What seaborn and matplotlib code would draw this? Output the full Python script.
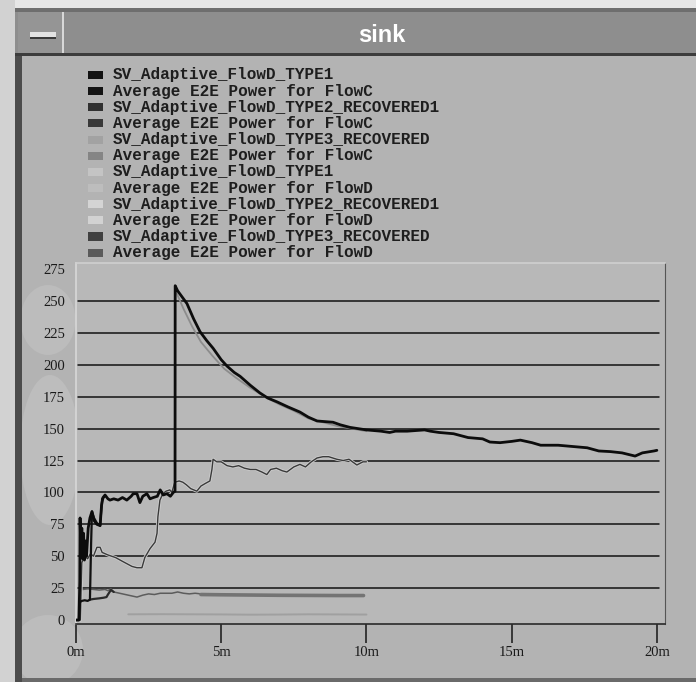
import matplotlib
matplotlib.use("Agg")
import matplotlib.pyplot as plt
import seaborn as sns
import pandas as pd
from matplotlib.patches import Rectangle, Ellipse

# ---------------- data ----------------
legend_labels = [
    "SV_Adaptive_FlowD_TYPE1",
    "Average E2E Power for FlowC",
    "SV_Adaptive_FlowD_TYPE2_RECOVERED1",
    "Average E2E Power for FlowC",
    "SV_Adaptive_FlowD_TYPE3_RECOVERED",
    "Average E2E Power for FlowC",
    "SV_Adaptive_FlowD_TYPE1",
    "Average E2E Power for FlowD",
    "SV_Adaptive_FlowD_TYPE2_RECOVERED1",
    "Average E2E Power for FlowD",
    "SV_Adaptive_FlowD_TYPE3_RECOVERED",
    "Average E2E Power for FlowD",
]
legend_colors = ["#121212", "#141414", "#303030", "#383838", "#a2a2a2", "#858585",
                 "#c4c4c4", "#bdbdbd", "#d4d4d4", "#d2d2d2", "#404040", "#5a5a5a"]

y_ticks = [0, 25, 50, 75, 100, 125, 150, 175, 200, 225, 250, 275]
x_ticks = [0, 5, 10, 15, 20]
x_tick_labels = ["0m", "5m", "10m", "15m", "20m"]

# main black series (Average E2E Power for FlowC)
flowc_t = [0.00, 0.10, 0.13, 0.14, 0.17, 0.20, 0.23, 0.26, 0.29, 0.32, 0.36, 0.42,
           0.48, 0.55, 0.62, 0.72, 0.83, 0.88, 0.93, 1.00, 1.10, 1.17, 1.30, 1.45,
           1.60, 1.75, 1.90, 1.97, 2.10, 2.20, 2.30, 2.44, 2.55, 2.66, 2.80, 2.90,
           3.00, 3.13, 3.25, 3.35, 3.41, 3.415, 3.50, 3.82, 4.05, 4.27, 4.50, 4.72,
           5.00, 5.20, 5.45, 5.65, 6.00, 6.33, 6.60, 6.92, 7.30, 7.71, 8.00, 8.30,
           8.85, 9.10, 9.43, 10.0, 10.5, 10.8, 11.0, 11.4, 12.0, 12.2, 12.5, 13.0,
           13.5, 14.0, 14.25, 14.6, 15.0, 15.3, 15.7, 16.0, 16.6, 17.1, 17.6, 18.0,
           18.4, 18.8, 19.25, 19.5, 19.9, 20.0]
flowc_v = [0, 0, 30, 80, 50, 72, 48, 68, 47, 62, 50, 72,
           80, 85, 78, 75, 74, 90, 96, 98, 95, 94, 95, 94,
           96, 94, 97, 99, 99, 92, 97, 99, 95, 96, 97, 102,
           98, 99, 97, 100, 101, 262, 258, 248, 236, 226, 219, 213,
           204, 199, 194, 191, 184, 178, 174, 171, 167, 163, 159, 156,
           155, 153, 151, 149, 148, 147, 148, 148, 149, 148, 147, 146,
           143, 142, 139.5, 139, 140, 141, 139, 137, 137, 136, 135, 132.5,
           132, 131, 128.5, 131, 132.5, 133]

# grey companion of the decay
flowc_grey_t = [3.45, 3.70, 4.00, 4.30, 4.70, 5.10, 5.50, 6.00, 6.50, 7.00, 7.50, 8.00, 9.00, 10.0]
flowc_grey_v = [257, 244, 230, 218, 207, 197, 190, 182, 175, 169, 164, 158, 152, 148]

# thin dark series (Average E2E Power for FlowD)
flowd_t = [0.00, 0.15, 0.20, 0.30, 0.40, 0.50, 0.60, 0.72, 0.83, 0.90, 1.10, 1.36,
           1.60, 1.93, 2.10, 2.27, 2.37, 2.55, 2.72, 2.79, 2.82, 2.89, 2.99, 3.10,
           3.23, 3.30, 3.40, 3.55, 3.68, 3.80, 3.95, 4.16, 4.30, 4.45,
           4.61, 4.68, 4.72, 4.85, 5.00, 5.20, 5.40, 5.60, 5.80, 6.00, 6.20, 6.40,
           6.57, 6.70, 6.90, 7.10, 7.26, 7.50, 7.71, 7.90, 8.10, 8.30, 8.50, 8.70,
           8.98, 9.20, 9.40, 9.67, 9.88, 10.0]
flowd_v = [0, 0, 45, 50, 48, 52, 50, 57, 57, 53, 51, 49,
           46, 42, 41, 41, 49, 56, 61, 68, 81, 94, 99, 101,
           102, 100, 108, 109, 108, 106, 103, 101, 105, 107,
           109, 118, 126, 124, 124, 121, 120, 121, 119, 118, 118, 116,
           114, 118, 119, 117, 116, 120, 122, 120, 124, 127, 128, 128,
           126, 125, 126, 121.5, 124, 124]

# thin black early series (SV_Adaptive_FlowD_TYPE1)
type1_t = [0.00, 0.10, 0.13, 0.20, 0.30, 0.40, 0.48, 0.52, 0.55, 0.62, 0.72, 0.83, 0.90, 1.00]
type1_v = [0, 0, 14, 15, 15.5, 15, 16, 60, 85, 80, 76, 74, 95, 97]

# low grey series
low_t = [0.00, 0.12, 0.15, 0.25, 0.40, 0.60, 0.80, 1.00, 1.10, 1.20, 1.30, 1.50,
         1.70, 1.90, 2.10, 2.30, 2.50, 2.70, 2.90, 3.10, 3.30, 3.50, 3.70, 3.90,
         4.10, 4.30, 4.50, 4.70]
low_v = [0, 0, 24, 24, 24.5, 24, 23.5, 24, 23, 24.5, 22, 21,
         20, 19, 18, 19.5, 20.5, 20, 21, 21, 21, 22, 21, 20.5,
         21, 20.5, 20, 20]

# lower loop
loop_t = [0.48, 0.60, 0.80, 0.95, 1.05, 1.10, 1.20, 1.30]
loop_v = [16, 16.5, 17, 17.5, 18, 20, 23.5, 22]

# thick flat grey series
flat_t = [4.30, 5.00, 6.00, 7.00, 8.00, 9.00, 9.90]
flat_v = [20, 19.8, 19.6, 19.4, 19.3, 19.2, 19.2]

# faint series near zero
faint_t = [1.80, 3.00, 4.00, 5.00, 6.00, 7.00, 8.00, 9.00, 10.0]
faint_v = [4.5, 4.6, 4.5, 4.4, 4.2, 4.3, 4.5, 4.4, 4.3]

# ---------------- figure ----------------
sns.set_theme(style="white")
plt.rcParams["font.family"] = ["Liberation Serif", "DejaVu Serif"]

W, H = 696, 682
fig = plt.figure(figsize=(W / 100, H / 100), dpi=100)
fig.patch.set_facecolor("#b3b3b3")


def fx(px):
    return px / W


def fy(py):
    return 1 - py / H


def frect(x0, y0, x1, y1, z=-1, **kw):
    fig.patches.append(Rectangle((fx(x0), fy(y1)), fx(x1) - fx(x0), fy(y0) - fy(y1),
                                 transform=fig.transFigure, zorder=z, **kw))


def fell(xc, yc, w, h, col):
    fig.patches.append(Ellipse((fx(xc), fy(yc)), w / W, h / H, transform=fig.transFigure,
                               facecolor=col, edgecolor="none", zorder=-2))


# light scan blotches on the left margin (behind everything)
fell(48, 320, 55, 70, "#bcbcbc")
fell(50, 450, 60, 150, "#bdbdbd")
fell(48, 650, 70, 70, "#bcbcbc")

# window chrome
frect(0, 0, 696, 8, facecolor="#e6e6e6", edgecolor="none")
frect(0, 0, 15, 682, facecolor="#d2d2d2", edgecolor="none")
frect(15, 8, 696, 55, facecolor="#8e8e8e", edgecolor="none")
frect(15, 8, 696, 12, facecolor="#6e6e6e", edgecolor="none")
frect(15, 53, 696, 56, facecolor="#3c3c3c", edgecolor="none")
frect(18, 12, 62, 53, facecolor="#959595", edgecolor="none")
frect(62, 12, 64, 53, facecolor="#d8d8d8", edgecolor="none")
frect(30, 32, 56, 37, facecolor="#e2e2e2", edgecolor="none")
frect(30, 37, 56, 39, facecolor="#3a3a3a", edgecolor="none")
frect(15, 56, 22, 682, facecolor="#4c4c4c", edgecolor="none")
frect(22, 678, 696, 682, facecolor="#6a6a6a", edgecolor="none")
fig.text(fx(382), fy(36), "sink", color="white", fontsize=17, fontweight="bold",
         family=["Liberation Sans", "DejaVu Sans"], ha="center", va="center")

# legend
for i, (lab, col) in enumerate(zip(legend_labels, legend_colors)):
    yc = 75 + i * 16.15
    frect(88, yc - 4, 103, yc + 4, facecolor=col, edgecolor="none")
    fig.text(fx(113), fy(yc), lab, fontsize=11.5, fontweight="bold", color="#1e1e1e",
             family=["Liberation Mono", "DejaVu Sans Mono"], ha="left", va="center")

# axes
ax = fig.add_axes([fx(76), fy(624), fx(665) - fx(76), fy(263) - fy(624)])
ax.set_facecolor("#b8b8b8")
ax.set_xlim(0, 20.28)
ax.set_ylim(-3.1, 279.8)

for v in y_ticks[1:-1]:
    ax.axhline(v, xmin=0.004, xmax=0.99, color="#121212", lw=1.1, zorder=1)


def draw(t, v, color, lw, z):
    df = pd.DataFrame({"t": t, "v": v})
    sns.lineplot(data=df, x="t", y="v", ax=ax, color=color, linewidth=lw,
                 estimator=None, sort=False, zorder=z)


draw(faint_t, faint_v, "#a0a0a0", 1.4, 2)
draw(low_t, low_v, "#5c5c5c", 1.1, 3)
draw(flat_t, flat_v, "#747474", 2.6, 3)
draw(loop_t, loop_v, "#2a2a2a", 1.6, 3)
draw(flowd_t, flowd_v, "#cdcdcd", 2.2, 4)
draw(flowd_t, flowd_v, "#3a3a3a", 1.0, 5)
draw(flowc_grey_t, flowc_grey_v, "#8c8c8c", 1.3, 5)
draw(type1_t, type1_v, "#111111", 1.6, 6)
draw(flowc_t, flowc_v, "#0c0c0c", 2.0, 7)

ax.set_xlabel("")
ax.set_ylabel("")
ax.set_yticks(y_ticks)
ax.set_yticklabels([str(v) for v in y_ticks])
ax.set_xticks(x_ticks)
ax.set_xticklabels(x_tick_labels)
ax.tick_params(axis="y", length=0, pad=8, labelsize=10.5, labelcolor="#1a1a1a")
ax.tick_params(axis="x", length=14, width=1.2, color="#222222", direction="out",
               pad=2, labelsize=10.5, labelcolor="#1a1a1a", bottom=True)
ax.spines["left"].set_color("#d8d8d8")
ax.spines["top"].set_color("#cfcfcf")
ax.spines["right"].set_color("#555555")
ax.spines["bottom"].set_color("#2a2a2a")
for s, w in zip(["left", "top", "right", "bottom"], [1.2, 1.2, 0.8, 1.2]):
    ax.spines[s].set_linewidth(w)
ax.grid(False)

fig.savefig("out.png", dpi=100, facecolor=fig.get_facecolor())
